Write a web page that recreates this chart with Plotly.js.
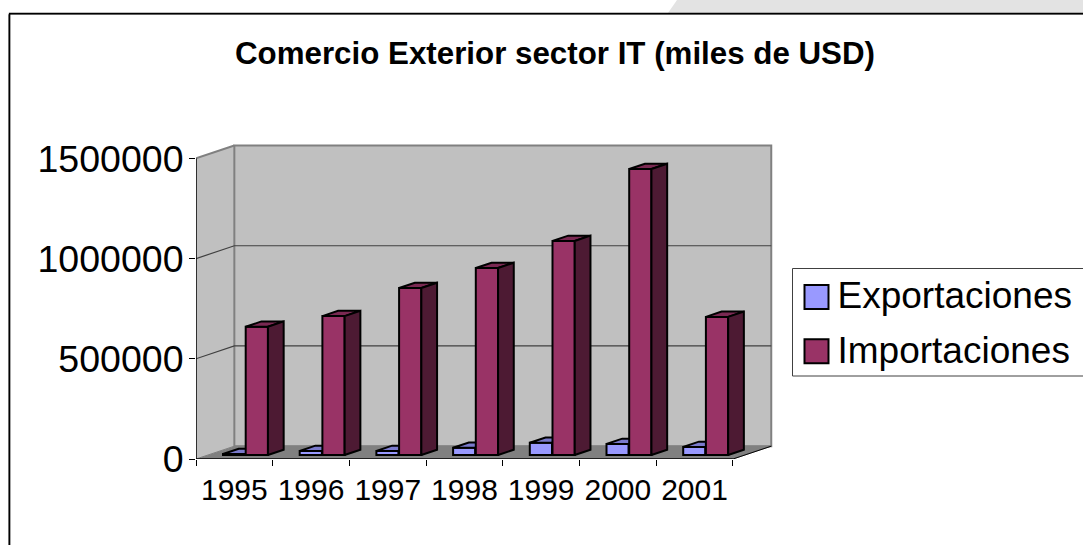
<!DOCTYPE html>
<html>
<head>
<meta charset="utf-8">
<script src="https://cdn.plot.ly/plotly-3.0.1.min.js"></script>
<style>html,body{margin:0;padding:0;background:#fff;overflow:hidden}</style>
</head>
<body>
<div id="chart" style="width:1083px;height:545px"></div>
<script>
const years = [1995, 1996, 1997, 1998, 1999, 2000, 2001];
const exportaciones = [5000, 20000, 20000, 36000, 61000, 55000, 40000];
const importaciones = [640000, 693000, 833000, 933000, 1068000, 1427000, 689000];
const yTicks = [0, 500000, 1000000, 1500000];

const FONT = '"Liberation Sans", Arial, sans-serif';
const M = {l: 196, r: 305, t: 140, b: 86, autoexpand: false};
const W = 1083, H = 545;
const pw = W - M.l - M.r, ph = H - M.t - M.b;
const px = x => (x - M.l) / pw, py = y => (H - M.b - y) / ph;

// 3-D look: depth offsets expressed in axis units
const xMin = years[0] - 0.5, xMax = years[years.length - 1] + 0.5;
const wallDx = 0.5, wallDy = 64000, yTop = yTicks[yTicks.length - 1];
const barDx = 0.205, barDy = 26500, barBase = 20000, barW = 0.29;

function faces(values, off) {
  const side = {x: [], y: []}, top = {x: [], y: []};
  values.forEach((v, i) => {
    const x0 = years[i] + off, x1 = x0 + barW, t = v + barBase;
    side.x.push(x1, x1 + barDx, x1 + barDx, x1, x1, null);
    side.y.push(barBase, barBase + barDy, t + barDy, t, barBase, null);
    top.x.push(x0, x0 + barDx, x1 + barDx, x1, x0, null);
    top.y.push(t, t + barDy, t + barDy, t, t, null);
  });
  return {side, top};
}
function poly(g, color, z, grp) {
  return {type: 'scatter', mode: 'lines', x: g.x, y: g.y, fill: 'toself', fillcolor: color, legendgroup: grp,
    line: {color: '#000', width: 2}, showlegend: false, hoverinfo: 'skip', zorder: z};
}
function bar(name, values, off, color, z, grp) {
  return {type: 'bar', name, x: years, y: values, base: barBase, offset: off, width: barW, legendgroup: grp,
    marker: {color, line: {color: '#000', width: 2}}, zorder: z};
}
const ex = faces(exportaciones, -0.148), im = faces(importaciones, 0.148);
const traces = [
  bar('Exportaciones', exportaciones, -0.148, '#9999ff', 1, 'e'),
  poly(ex.top, '#7a7acc', 1, 'e'), poly(ex.side, '#4d4d80', 1, 'e'),
  bar('Importaciones', importaciones, 0.148, '#993366', 2, 'i'),
  poly(im.top, '#7a2952', 2, 'i'), poly(im.side, '#4d1a33', 2, 'i')
];

const pathOf = pts => 'M' + pts.map(p => p.join(',')).join('L') + 'Z';
const shapes = [
  // slide background corner and chart frame
  {type: 'path', xref: 'paper', yref: 'paper', layer: 'below', line: {width: 0}, fillcolor: '#e3e3e3',
   path: pathOf([[px(668), py(13)], [px(677), py(0)], [px(1083), py(0)], [px(1083), py(13)]])},
  {type: 'path', xref: 'paper', yref: 'paper', layer: 'below', line: {color: '#808080', width: 1},
   path: `M${px(8.5)},${py(545)}L${px(8.5)},${py(14.5)}L${px(1083)},${py(14.5)}`},
  {type: 'path', xref: 'paper', yref: 'paper', layer: 'below', line: {color: '#000', width: 1.5},
   path: `M${px(9.6)},${py(545)}L${px(9.6)},${py(13.4)}L${px(1083)},${py(13.4)}`},
  // legend box
  {type: 'rect', xref: 'paper', yref: 'paper', layer: 'below', fillcolor: '#fff', line: {color: '#404040', width: 1},
   x0: px(792.5), x1: px(1090), y0: py(376), y1: py(268.5)},
  // left wall
  {type: 'path', layer: 'below', xref: 'x', yref: 'y', fillcolor: '#c0c0c0', line: {width: 0},
   path: pathOf([[xMin, 0], [xMin, yTop], [xMin + wallDx, yTop + wallDy], [xMin + wallDx, wallDy]])},
  // back wall
  {type: 'rect', layer: 'below', xref: 'x', yref: 'y', fillcolor: '#c0c0c0', line: {color: '#808080', width: 2},
   x0: xMin + wallDx, x1: xMax + wallDx, y0: wallDy, y1: yTop + wallDy},
  // floor
  {type: 'path', layer: 'below', xref: 'x', yref: 'y', fillcolor: '#808080', line: {color: '#808080', width: 1},
   path: pathOf([[xMin, 0], [xMax, 0], [xMax + wallDx, wallDy], [xMin + wallDx, wallDy]])},
  // wall-top edge
  {type: 'line', layer: 'below', xref: 'x', yref: 'y', line: {color: '#808080', width: 2},
   x0: xMin, y0: yTop, x1: xMin + wallDx, y1: yTop + wallDy},
  // right floor edge
  {type: 'line', layer: 'below', xref: 'x', yref: 'y', line: {color: '#000', width: 1},
   x0: xMax, y0: 0, x1: xMax + wallDx, y1: wallDy},
  // axis lines
  {type: 'line', layer: 'above', xref: 'x', yref: 'y', line: {color: '#000', width: 1.5},
   x0: xMin, y0: 0, x1: xMin, y1: yTop},
  {type: 'line', layer: 'below', xref: 'x', yref: 'y', line: {color: '#000', width: 1.5},
   x0: xMin, y0: 0, x1: xMax, y1: 0}
];
yTicks.slice(1, -1).forEach(v => {
  shapes.push({type: 'path', layer: 'below', xref: 'x', yref: 'y', line: {color: '#404040', width: 1.2},
    path: `M${xMin},${v}L${xMin + wallDx},${v + wallDy}L${xMax + wallDx},${v + wallDy}`});
});

const layout = {
  width: W, height: H, margin: M, paper_bgcolor: '#fff', plot_bgcolor: 'rgba(0,0,0,0)',
  barmode: 'overlay', showlegend: true, hovermode: false,
  font: {family: FONT, color: '#000'},
  title: {text: 'Comercio Exterior sector IT (miles de USD)', font: {family: FONT, size: 31.3, weight: 700, color: '#000'},
    xref: 'container', yref: 'container', x: 555 / W, xanchor: 'center', y: 1 - 53 / H, yanchor: 'middle'},
  xaxis: {type: 'linear', range: [xMin, xMin + pw / 76.7], showgrid: false, zeroline: false, showline: false,
    tickmode: 'array', tickvals: years, ticktext: years.map(String), ticks: '',
    ticklabelstandoff: 10, tickfont: {family: FONT, size: 30, color: '#000'},
    minor: {tickmode: 'array', tickvals: years.map(y => y - 0.5).concat([xMax]), ticks: 'outside', ticklen: 6, tickwidth: 1, tickcolor: '#000', showgrid: false}},
  yaxis: {type: 'linear', range: [0, ph * 4990], showgrid: false, zeroline: false, showline: false,
    tickmode: 'array', tickvals: yTicks, ticktext: yTicks.map(String), ticks: 'outside', ticklen: 6, tickwidth: 1, tickcolor: '#000',
    ticklabelstandoff: -2, tickfont: {family: FONT, size: 37.5, color: '#000'}},
  legend: {x: px(793.5), y: py(263.5), xanchor: 'left', yanchor: 'top', bgcolor: 'rgba(0,0,0,0)', borderwidth: 0,
    font: {family: FONT, size: 37, color: '#000'}, itemwidth: 34, traceorder: 'grouped', tracegroupgap: 3, itemclick: false, itemdoubleclick: false},
  shapes
};

function bigSwatches() {
  document.querySelectorAll('#chart path[class*="legendbar"], #chart .legendpoints path').forEach(p => {
    p.setAttribute('d', 'M13,15H-11V-9H13Z');
  });
}
const gd = document.getElementById('chart');
Plotly.newPlot(gd, traces, layout, {displayModeBar: false, staticPlot: true}).then(() => {
  bigSwatches();
  gd.on('plotly_afterplot', bigSwatches);
  setTimeout(bigSwatches, 50);
});
</script>
</body>
</html>
